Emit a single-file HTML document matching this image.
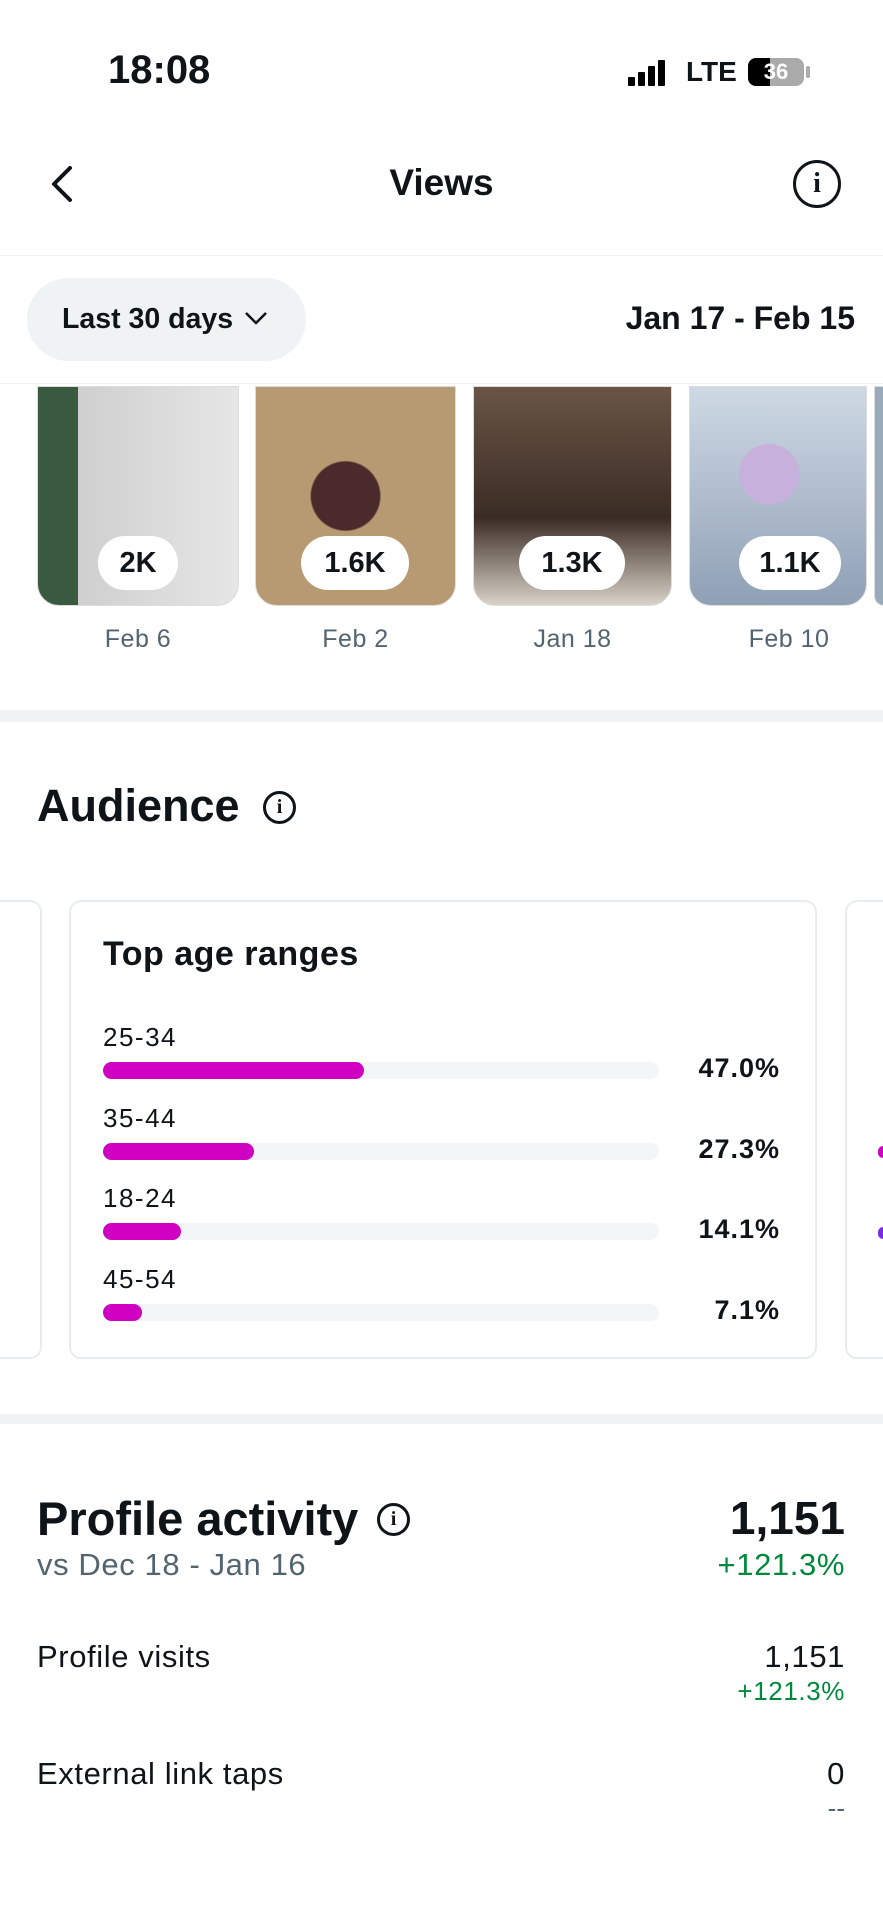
<!DOCTYPE html>
<html><head><meta charset="utf-8"><style>
*{margin:0;padding:0;box-sizing:border-box}
body{width:883px;height:1920px;background:#fff;font-family:"Liberation Sans",sans-serif;color:#0f1419;position:relative;overflow:hidden}
.a{position:absolute;white-space:nowrap}
.b{font-weight:bold}
.thumb{position:absolute;top:386px;height:220px;border-radius:0 0 22px 22px;overflow:hidden;border:1px solid #ddd}
.pill{position:absolute;top:536px;height:54px;background:#fff;border-radius:27px;font-weight:bold;font-size:29px;line-height:54px;text-align:center}
.date{position:absolute;top:625px;font-size:25px;letter-spacing:0.5px;color:#536471;text-align:center}
.lab{position:absolute;left:103px;font-size:26px;letter-spacing:1.5px}
.track{position:absolute;left:103px;width:556px;height:17px;background:#f3f5f6;border-radius:9px}
.fill{height:17px;background:#d000c2;border-radius:9px}
.pct{position:absolute;right:103px;font-size:27px;letter-spacing:1px;font-weight:bold}
.t{font-size:31px;letter-spacing:0.6px}
</style></head><body>
<div class="a b" style="left:108px;top:48px;font-size:40px">18:08</div>
<div class="a" style="left:628px;top:58px;width:40px;height:28px">
<div style="position:absolute;left:0;bottom:0;width:7px;height:9px;background:#000;border-radius:1px"></div>
<div style="position:absolute;left:10px;bottom:0;width:7px;height:14px;background:#000;border-radius:1px"></div>
<div style="position:absolute;left:20px;bottom:0;width:7px;height:20px;background:#000;border-radius:1px"></div>
<div style="position:absolute;left:30px;bottom:0;width:7px;height:26px;background:#000;border-radius:1px"></div></div>
<div class="a b" style="left:686px;top:56px;font-size:28px">LTE</div>
<div class="a" style="left:748px;top:58px;width:56px;height:28px;background:#aaa;border-radius:8px;overflow:hidden"><div style="width:22px;height:28px;background:#000"></div><div style="position:absolute;left:0;top:0;width:56px;text-align:center;color:#fff;font-weight:bold;font-size:22px;line-height:28px">36</div></div>
<div class="a" style="left:806px;top:66px;width:4px;height:12px;background:#aaa;border-radius:2px"></div>

<svg class="a" style="left:46px;top:164px" width="30" height="40"><path d="M24 4 L8 20 L24 36" stroke="#0f1419" stroke-width="4" fill="none" stroke-linecap="round" stroke-linejoin="round"/></svg>
<div class="a b" style="left:0;width:883px;text-align:center;top:162px;font-size:37px">Views</div>
<div class="a" style="left:793px;top:160px;width:48px;height:48px;border:3.5px solid #0f1419;border-radius:50%;text-align:center;font-weight:bold;font-size:28px;line-height:41px;font-family:'Liberation Serif',serif">i</div>
<div class="a" style="left:0;top:255px;width:883px;height:1px;background:#eff3f4"></div>

<div class="a" style="left:27px;top:278px;width:279px;height:83px;background:#eff3f4;border-radius:42px"></div>
<div class="a b" style="left:62px;top:303px;font-size:28.5px">Last 30 days</div>
<svg class="a" style="left:244px;top:310px" width="24" height="16"><path d="M2 3 L12 13 L22 3" stroke="#0f1419" stroke-width="2.5" fill="none"/></svg>
<div class="a b" style="right:28px;top:300px;font-size:32px">Jan 17 - Feb 15</div>
<div class="a" style="left:0;top:383px;width:883px;height:1px;background:#eff3f4"></div>

<div class="thumb" style="left:37px;width:202px;background:linear-gradient(90deg,#3a5a40 0 20%,#cfcfcf 20%,#e6e6e6 100%)"></div>
<div class="thumb" style="left:255px;width:201px;background:radial-gradient(ellipse at 45% 50%,#4a2a2a 0 22%,transparent 23%),#b89a72"></div>
<div class="thumb" style="left:473px;width:199px;background:linear-gradient(180deg,#6a5545,#3a2c25 60%,#d9d2c8)"></div>
<div class="thumb" style="left:689px;width:178px;background:radial-gradient(circle at 45% 40%,#c7b0dc 0 18%,transparent 19%),linear-gradient(180deg,#cfd9e5,#8fa0b5)"></div>
<div class="thumb" style="left:874px;width:20px;background:#9ab"></div>
<div class="pill" style="left:98px;width:80px">2K</div>
<div class="pill" style="left:301px;width:108px">1.6K</div>
<div class="pill" style="left:519px;width:106px">1.3K</div>
<div class="pill" style="left:739px;width:102px">1.1K</div>
<div class="date" style="left:37px;width:202px">Feb 6</div>
<div class="date" style="left:255px;width:201px">Feb 2</div>
<div class="date" style="left:473px;width:199px">Jan 18</div>
<div class="date" style="left:689px;width:200px">Feb 10</div>

<div class="a" style="left:0;top:710px;width:883px;height:12px;background:#eff3f4"></div>
<div class="a b" style="left:37px;top:780px;font-size:45px">Audience</div>
<div class="a" style="left:263px;top:791px;width:33px;height:33px;border:3px solid #0f1419;border-radius:50%;text-align:center;font-weight:bold;font-size:20px;line-height:27px;font-family:'Liberation Serif',serif">i</div>

<div class="a" style="left:-20px;top:900px;width:62px;height:459px;border:2px solid #e6ecf0;border-radius:12px"></div>
<div class="a" style="left:69px;top:900px;width:748px;height:459px;border:2px solid #e6ecf0;border-radius:12px"></div>
<div class="a" style="left:845px;top:900px;width:80px;height:459px;border:2px solid #e6ecf0;border-radius:12px"></div>
<div class="a" style="left:878px;top:1146px;width:10px;height:12px;background:#d000c2;border-radius:5px"></div>
<div class="a" style="left:878px;top:1227px;width:10px;height:12px;background:#7a2ce0;border-radius:5px"></div>
<div class="a b" style="left:103px;top:935px;font-size:34px;letter-spacing:0.5px">Top age ranges</div>

<div class="lab" style="top:1022px">25-34</div><div class="track" style="top:1062px"><div class="fill" style="width:261px"></div></div><div class="pct" style="top:1053px">47.0%</div>
<div class="lab" style="top:1103px">35-44</div><div class="track" style="top:1143px"><div class="fill" style="width:151px"></div></div><div class="pct" style="top:1134px">27.3%</div>
<div class="lab" style="top:1183px">18-24</div><div class="track" style="top:1223px"><div class="fill" style="width:78px"></div></div><div class="pct" style="top:1214px">14.1%</div>
<div class="lab" style="top:1264px">45-54</div><div class="track" style="top:1304px"><div class="fill" style="width:39px"></div></div><div class="pct" style="top:1295px">7.1%</div>

<div class="a" style="left:0;top:1414px;width:883px;height:10px;background:#eff3f4"></div>
<div class="a b" style="left:37px;top:1491px;font-size:47px">Profile activity</div>
<div class="a" style="left:377px;top:1503px;width:33px;height:33px;border:3px solid #0f1419;border-radius:50%;text-align:center;font-weight:bold;font-size:20px;line-height:27px;font-family:'Liberation Serif',serif">i</div>
<div class="a b" style="right:38px;top:1491px;font-size:46px">1,151</div>
<div class="a t" style="left:37px;top:1547px;color:#536471">vs Dec 18 - Jan 16</div>
<div class="a t" style="right:38px;top:1547px;color:#00893d">+121.3%</div>
<div class="a t" style="left:37px;top:1639px">Profile visits</div>
<div class="a t" style="right:38px;top:1639px">1,151</div>
<div class="a" style="right:38px;top:1676px;font-size:26px;letter-spacing:0.6px;color:#00893d">+121.3%</div>
<div class="a t" style="left:37px;top:1756px">External link taps</div>
<div class="a t" style="right:38px;top:1756px">0</div>
<div class="a" style="right:38px;top:1793px;font-size:26px;color:#536471">--</div>
</body></html>
